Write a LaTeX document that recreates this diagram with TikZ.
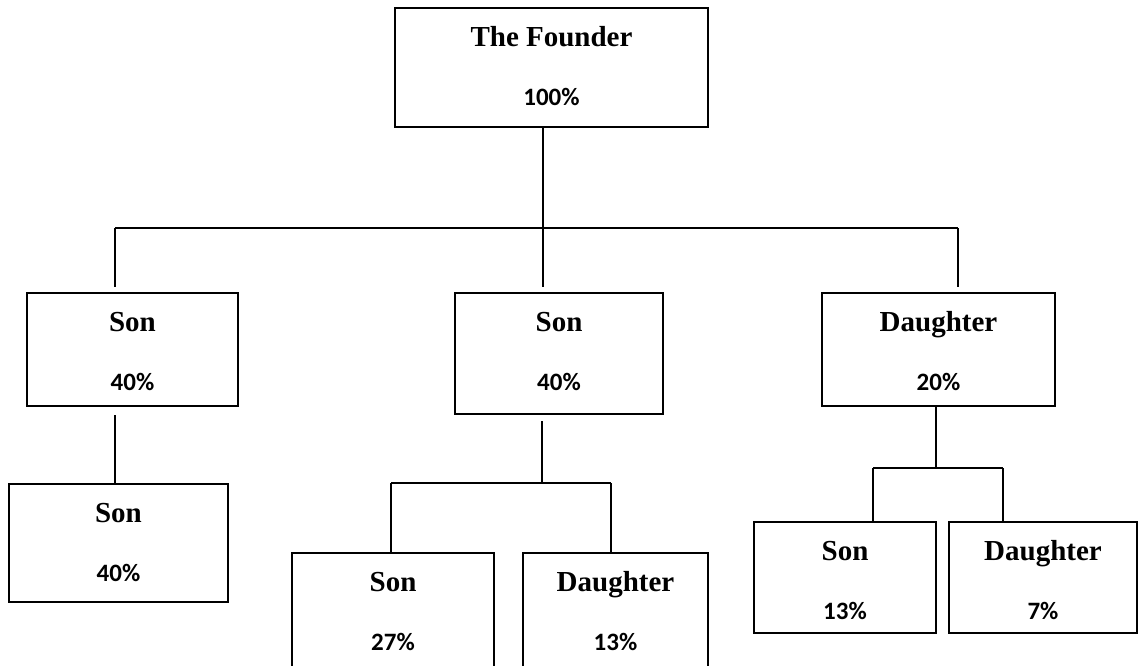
\documentclass[tikz,border=0pt]{standalone}
\usepackage{fontspec}
\setmainfont{Liberation Serif}
\newfontfamily\pctfont{Carlito}
\begin{document}
\begin{tikzpicture}[x=1pt,y=-1pt,
  box/.style={draw=black,line width=1.6pt,rectangle,inner sep=0pt},
  who/.style={anchor=base,inner sep=0pt,font=\fontsize{29}{30}\selectfont\bfseries},
  share/.style={anchor=base,inner sep=0pt,font=\pctfont\fontsize{25}{26}\selectfont\bfseries},
  link/.style={draw=black,line width=1.3pt}]
\path[use as bounding box] (0,0) rectangle (1139,665);
\clip (0,0) rectangle (1139,665);

% a box from (x1,y1) to (x2,y2) with its name and share
\newcommand\famnode[7]{%
  \node[box,minimum width={#4-#2},minimum height={#5-#3}] (#1) at ({(#2+#4)/2},{(#3+#5)/2}) {};
  \node[who] (#1-name) at ({(#2+#4)/2},{#3+38.5}) {#6};
  \node[share] (#1-pct) at ({(#2+#4)/2},{#3+97}) {#7};}

\famnode{f}{395}{8}{708}{127}{The Founder}{100\%}
\famnode{s1}{27}{293}{238}{406}{Son}{40\%}
\famnode{s2}{455}{293}{663}{414}{Son}{40\%}
\famnode{d1}{822}{293}{1055}{406}{Daughter}{20\%}
\famnode{s11}{9}{484}{228}{602}{Son}{40\%}
\famnode{s21}{292}{553}{494}{700}{Son}{27\%}
\famnode{d21}{523}{553}{708}{700}{Daughter}{13\%}
\famnode{s31}{754}{522}{936}{633}{Son}{13\%}
\famnode{d31}{949}{522}{1137}{633}{Daughter}{7\%}

% first generation
\coordinate (fj) at (543,228);
\coordinate (b1) at (115,228);
\coordinate (b3) at (958,228);
\draw[link] (f.south -| fj) -- (fj);
\draw[link] (b1) -- (b3);
\draw[link,shorten >=5pt] (b1) -- (b1 |- s1.north);
\draw[link,shorten >=5pt] (fj) -- (fj |- s2.north);
\draw[link,shorten >=5pt] (b3) -- (b3 |- d1.north);

% heir of the first son
\coordinate (l1) at (115,415);
\draw[link] (l1) -- (l1 |- s11.north);

% children of the second son
\coordinate (mj) at (542,483);
\coordinate (m1) at (391,483);
\coordinate (m2) at (611,483);
\draw[link] (542,421) -- (mj);
\draw[link] (m1) -- (m2);
\draw[link] (m1) -- (m1 |- s21.north);
\draw[link] (m2) -- (m2 |- d21.north);

% children of the daughter
\coordinate (rj) at (936,468);
\coordinate (r1) at (873,468);
\coordinate (r2) at (1003,468);
\draw[link] (d1.south -| rj) -- (rj);
\draw[link] (r1) -- (r2);
\draw[link] (r1) -- (r1 |- s31.north);
\draw[link] (r2) -- (r2 |- d31.north);
\end{tikzpicture}
\end{document}
